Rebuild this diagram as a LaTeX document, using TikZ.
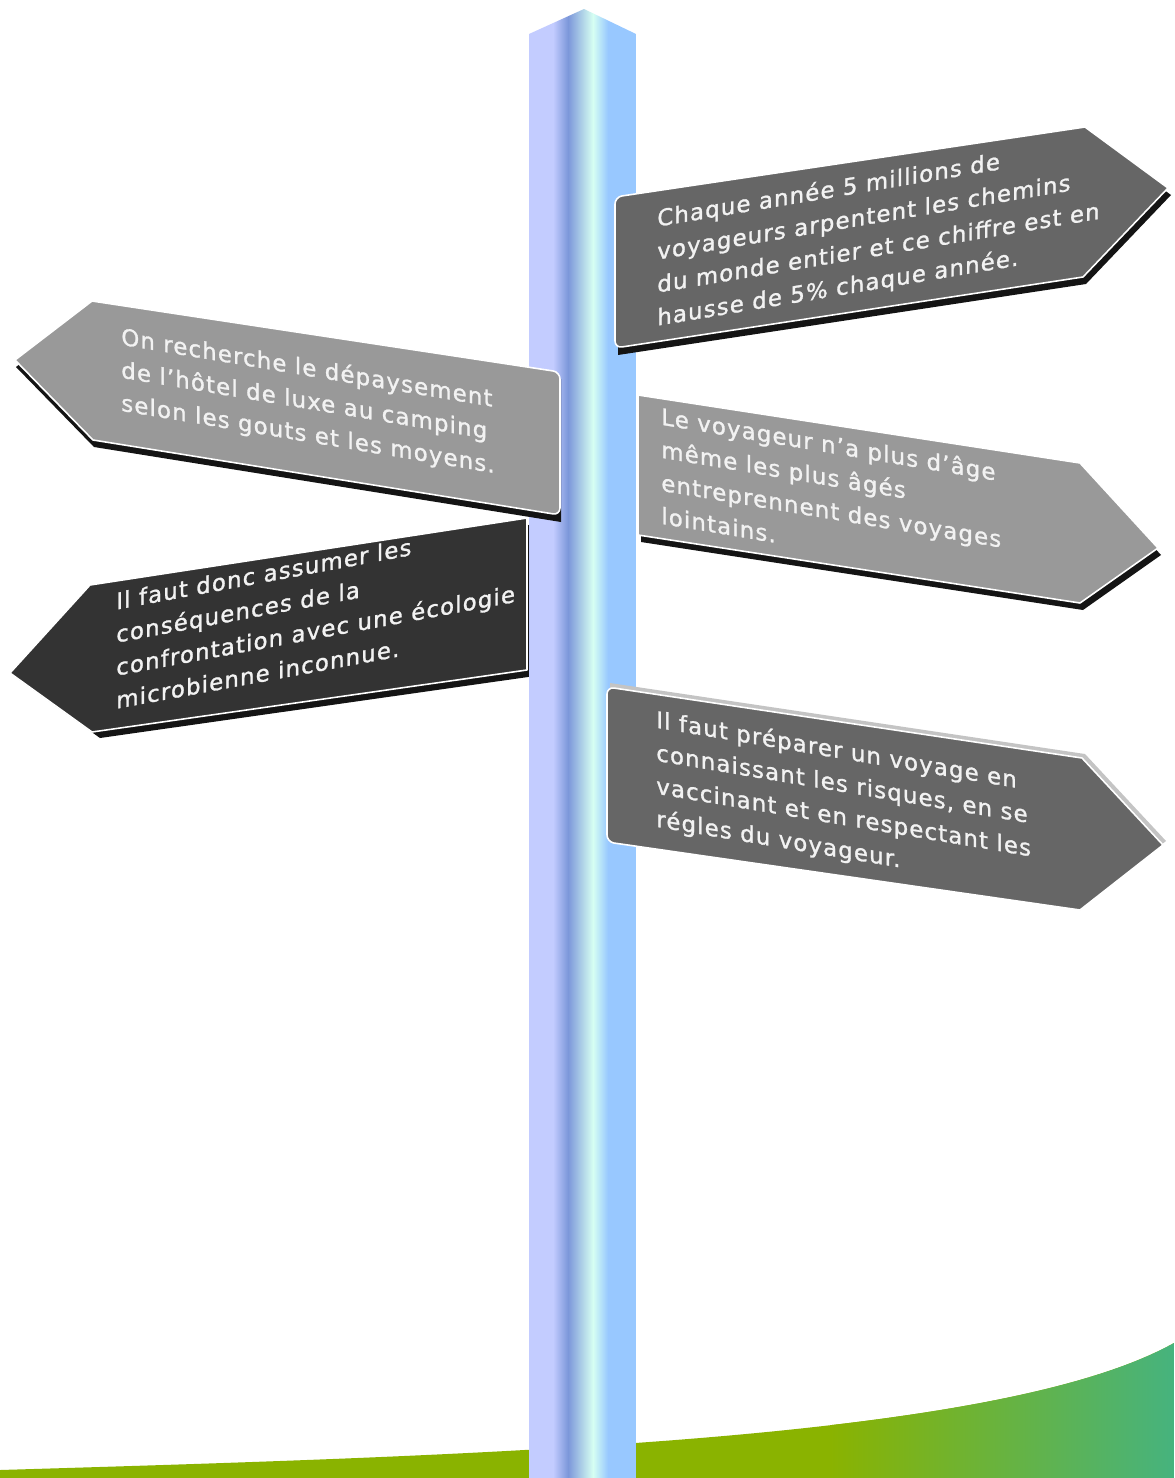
\documentclass[tikz,border=0pt]{standalone}
\usepackage{fontspec}
\newfontfamily\signfont[LetterSpace=5,FakeBold=1.2]{DejaVu Sans}

\definecolor{signlight}{HTML}{999999}
\definecolor{signmid}{HTML}{666666}
\definecolor{signdark}{HTML}{333333}
\definecolor{signedge}{HTML}{C4C4C4}
\definecolor{polelav}{HTML}{C3CCFF}
\definecolor{poledeep}{HTML}{7C97DA}
\definecolor{poleglow}{HTML}{D6FFF2}
\definecolor{polesky}{HTML}{98C8FF}
\definecolor{grassolive}{HTML}{8AB300}
\definecolor{grassteal}{HTML}{46B37E}

\begin{document}
\begin{tikzpicture}[
		x=0.02cm,y=-0.02cm,
		board/.style={draw=white,line width=0.9pt,line join=round},
		boardshadow/.style={fill=black!92},
		boardtext/.style={font=\signfont\fontsize{13}{18.8}\selectfont,text=white!95!black,
			align=left,inner sep=0pt,anchor=north west}
		]
		\useasboundingbox (0,0) rectangle (1174,1478);
		\fill[white] (0,0) rectangle (1174,1478);
		% ground
		\begin{scope}
			\clip (0,1470) .. controls (500,1455) and (1000,1440) .. (1174,1343) -- (1174,1478) -- (0,1478) -- cycle;
			\fill[grassolive] (0,1300) rectangle (1174,1478);
			\shade[left color=grassolive,right color=grassteal] (830,1300) rectangle (1174,1478);
		\end{scope}
		% signs behind the pole
		\fill[boardshadow,shift={(3,7)}] (638,395) -- (1080,463) -- (1158,548) -- (1080,603) -- (638,535) -- cycle;
		\path[board,fill=signlight] (638,395) -- (1080,463) -- (1158,548) -- (1080,603) -- (638,535) -- cycle;
		\fill[boardshadow,shift={(8,6)}] (527,518) -- (90,585) -- (10,673) -- (92,732) -- (527,670) -- cycle;
		\path[board,fill=signdark] (527,518) -- (90,585) -- (10,673) -- (92,732) -- (527,670) -- cycle;
		% pole
		\begin{scope}
			\clip (529,1478) -- (529,34) -- (584,9) -- (636,34) -- (636,1478) -- cycle;
			\fill[polelav] (529,0) rectangle (553,1478);
			\shade[left color=polelav,right color=poledeep] (553,0) rectangle (568,1478);
			\shade[left color=poledeep,right color=poleglow] (568,0) rectangle (593,1478);
			\shade[left color=poleglow,right color=polesky] (593,0) rectangle (608,1478);
			\fill[polesky] (608,0) rectangle (636,1478);
		\end{scope}
		% signs in front of the pole
		\fill[boardshadow,shift={(3,7)}] (615,197) -- (1085,127) -- (1168,188) -- (1083,277) -- (615,348) -- cycle;
		\path[board,fill=signmid] (615,270) [rounded corners=4pt] -- (615,197) -- (700,184.3) [sharp corners]
			-- (1085,127) -- (1168,188) -- (1083,277) -- (700,335.1) [rounded corners=4pt] -- (615,348) -- cycle;
		\fill[boardshadow,shift={(1,7)}] (15,360) -- (92,301) -- (560,372) -- (560,515) -- (93,440) -- cycle;
		\path[board,fill=signlight] (15,360) -- (92,301) -- (470,358.3) [rounded corners=4pt] -- (560,372)
			-- (560,515) -- (470,500.5) [sharp corners] -- (93,440) -- cycle;
		\fill[signedge,shift={(3,-4)}] (607,687) -- (1082,758) -- (1163,845) -- (1080,910) -- (607,842) -- cycle;
		\path[board,fill=signmid] (607,760) [rounded corners=4pt] -- (607,687) -- (700,700.9) [sharp corners]
			-- (1082,758) -- (1163,845) -- (1080,910) -- (700,855.4) [rounded corners=4pt] -- (607,842) -- cycle;
		% texts
		\node[boardtext,yslant=0.167] (yearly) at (657,208)
			{Chaque année 5 millions de\\voyageurs arpentent les chemins\\du monde entier et ce chiffre est en\\hausse de 5\% chaque année.};
		\node[boardtext,yslant=-0.167] (escape) at (121,326)
			{On recherche le dépaysement\\de l’hôtel de luxe au camping\\selon les gouts et les moyens.};
		\node[boardtext,yslant=-0.167] (ageless) at (661,406)
			{Le voyageur n’a plus d’âge\\même les plus âgés\\entreprennent des voyages\\lointains.};
		\node[boardtext,yslant=0.185] (microbes) at (116,592)
			{Il faut donc assumer les\\conséquences de la\\confrontation avec une écologie\\microbienne inconnue.};
		\node[boardtext,yslant=-0.167] (prepare) at (656,709)
			{Il faut préparer un voyage en\\connaissant les risques, en se\\vaccinant et en respectant les\\régles du voyageur.};
	\end{tikzpicture}
\end{document}
